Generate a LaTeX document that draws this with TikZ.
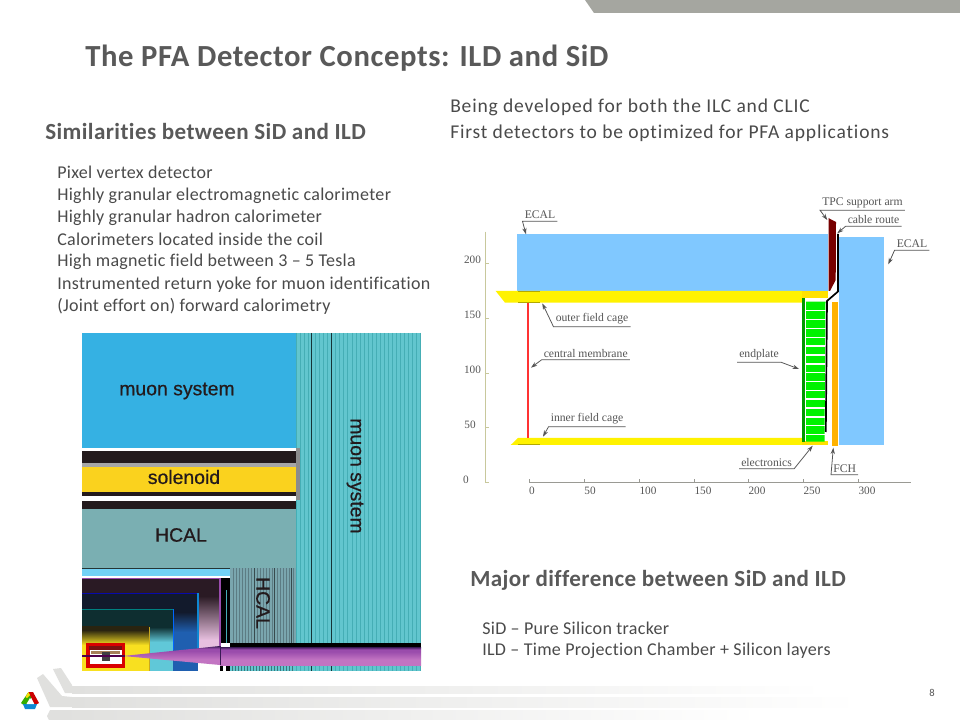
\documentclass[tikz,border=0pt]{standalone}
\usepackage{fontspec}
\setmainfont{Carlito}
\newfontfamily\titlef[LetterSpace=2.0,Ligatures=NoCommon]{Carlito}
\newfontfamily\headf[LetterSpace=1.8,Ligatures=NoCommon]{Carlito}
\newfontfamily\topf[LetterSpace=4.2,Ligatures=NoCommon]{Carlito}
\newfontfamily\bodyf[LetterSpace=1.7,Ligatures=NoCommon]{Carlito}
\newfontfamily\serifnum{Liberation Serif}
\newfontfamily\helv[FakeBold=0.6]{Liberation Sans}
\usetikzlibrary{arrows.meta}
\definecolor{titlegray}{HTML}{595959}
\definecolor{bodygray}{HTML}{4A4A4A}
\definecolor{axiskhaki}{HTML}{C8C89C}
\definecolor{axisgray}{HTML}{9A9A94}
\definecolor{labgray}{HTML}{555555}
\definecolor{ecalblue}{HTML}{80C8FF}
\definecolor{cageyellow}{HTML}{FFF200}
\definecolor{muonblue}{HTML}{35B1E3}
\definecolor{stripecyan}{HTML}{62C6CE}
\definecolor{stripedark}{HTML}{45AEB5}
\definecolor{hcalteal}{HTML}{7AAFB2}
\definecolor{hcalstripe}{HTML}{7AA6AE}
\definecolor{soleyellow}{HTML}{FAD21E}
\definecolor{nearblack}{HTML}{231A1C}
\definecolor{footgray}{HTML}{E0E0DE}
\definecolor{barcolor}{HTML}{A5A6A0}
\definecolor{conedark}{HTML}{3A1A55}
\definecolor{conemid}{HTML}{9A4CAC}
\definecolor{conelow}{HTML}{C274C2}
\definecolor{boxpink}{HTML}{E8C0E0}
\definecolor{boxblue}{HTML}{1F5FB0}
\definecolor{boxcyan}{HTML}{60C8D8}
\definecolor{darkteal}{HTML}{0E2E30}
\definecolor{darknavy}{HTML}{121A2C}
\definecolor{darkplum}{HTML}{2A1A24}
\definecolor{darkolive}{HTML}{2A2410}
\definecolor{boxyellow}{HTML}{F8E020}
\definecolor{oliveline}{HTML}{C8A820}
\pgfdeclareverticalshading{conesh}{100bp}{color(0bp)=(conelow); color(40bp)=(conelow); color(62bp)=(conemid); color(68bp)=(conemid); color(75bp)=(conedark); color(100bp)=(conedark)}
\tikzset{
  x=0.025cm,y=-0.025cm,
  titletext/.style={anchor=west,inner sep=0pt,text=titlegray,font=\titlef\fontsize{21.8}{24}\selectfont\bfseries},
  headtext/.style={anchor=west,inner sep=0pt,text=titlegray,font=\headf\fontsize{16.4}{18}\selectfont\bfseries},
  bodytext/.style={anchor=west,inner sep=0pt,text=bodygray,font=\bodyf\fontsize{12.8}{15}\selectfont},
  toptext/.style={anchor=west,inner sep=0pt,text=bodygray,font=\topf\fontsize{13.9}{16}\selectfont},
  imgtext/.style={inner sep=0pt,text=nearblack,font=\helv\fontsize{13.8}{16}\selectfont},
  ticklabel/.style={inner sep=0pt,text=labgray,font=\serifnum\fontsize{8}{9}\selectfont},
  calllabel/.style={anchor=base west,inner sep=1.4pt,text=labgray,font=\serifnum\fontsize{8.3}{9}\selectfont},
  leader/.style={draw=labgray,line width=0.55pt,-{Stealth[length=4.5pt,width=3pt,fill=black]}},
  rung/.style={fill=white,draw=none},
  stripe/.style={draw=stripedark,line width=0.3pt},
  stripeheavy/.style={draw=black!70!stripedark,line width=0.6pt},
}
\begin{document}
\begin{tikzpicture}
\useasboundingbox (0,0) rectangle (960,720);
\fill[white] (0,0) rectangle (960,720);

% top bar
\fill[barcolor] (585,0) -- (594,13) -- (960,13) -- (960,0) -- cycle;

% footer swoosh
\shade[left color=footgray,right color=white] (72,686) rectangle (825,693);
\shade[left color=footgray,right color=white] (72,697) rectangle (860,707);
\shade[left color=footgray,right color=white] (60,710) rectangle (760,720);
\fill[footgray] (53,669) -- (61,668) -- (72,685) -- (72,693) -- (65,693) -- cycle;
\fill[footgray] (37,678) -- (43,674) -- (62,696) -- (72,697) -- (72,707) -- (50,707) -- cycle;
\fill[footgray] (47,716) -- (50,710) -- (60,710) -- (60,720) -- (49,720) -- cycle;

% logo
\fill[green!60!black!80!yellow] (28.5,692) -- (32,697) -- (25,706) -- (21,703) -- cycle;
\fill[red!80!black] (28.5,692) -- (33,692) -- (39,703) -- (35,705) -- cycle;
\fill[cyan!70!blue] (23,704) -- (37,704) -- (35,709) -- (25,709) -- cycle;
\fill[white] (30,698) -- (34,704) -- (26.5,704) -- cycle;
\fill[yellow!80!orange] (28.5,692) -- (30,695) -- (27,698) -- (25.5,697) -- cycle;

\node[anchor=center,inner sep=0pt,text=labgray,font=\fontsize{7.5}{9}\selectfont] (pageno) at (932,693) {8};

% texts
\node[titletext] (title) at (85,58) {The PFA Detector Concepts: ILD and SiD};
\node[headtext] (simhead) at (45,131.5) {Similarities between SiD and ILD};
\node[toptext] (top1) at (450,107.5) {Being developed for both the ILC and CLIC};
\node[toptext] (top2) at (450,133.5) {First detectors to be optimized for PFA applications};
\node[bodytext] (b1) at (57,172.5) {Pixel vertex detector};
\node[bodytext] (b2) at (57,195.5) {Highly granular electromagnetic calorimeter};
\node[bodytext] (b3) at (57,217.5) {Highly granular hadron calorimeter};
\node[bodytext] (b4) at (57,239.5) {Calorimeters located inside the coil};
\node[bodytext] (b5) at (57,261.5) {High magnetic field between 3 – 5 Tesla};
\node[bodytext] (b6) at (57,284.5) {Instrumented return yoke for muon identification};
\node[bodytext] (b7) at (57,306.5) {(Joint effort on) forward calorimetry};
\node[headtext] (majhead) at (470,580.5) {Major difference between SiD and ILD};
\node[bodytext] (m1) at (482,628.5) {SiD – Pure Silicon tracker};
\node[bodytext] (m2) at (482,650.5) {ILD – Time Projection Chamber + Silicon layers};

% ---------- left image ----------
\fill[muonblue] (82,333) rectangle (296,448);
\fill[stripecyan] (296,333) rectangle (421,671);
\foreach \sx in {300,304,308,315,319,323,327,335,339,343,347,352,356,360,364,368,372,376,380,384,388,392,396,400,404,408,412,416}
  \draw[stripe] (\sx,333) -- (\sx,671);
\draw[stripeheavy] (311,333) -- (311,671);
\draw[stripeheavy] (331,333) -- (331,671);
\draw[stripe,line width=0.5pt] (296,333) -- (296,671);
\draw[stripe,line width=0.8pt] (420.5,333) -- (420.5,671);

\fill[white] (82,448) rectangle (296,451);
\fill[nearblack] (82,451) rectangle (296,463);
\fill[black!35] (82,463) rectangle (296,467);
\fill[soleyellow] (82,467) rectangle (296,492);
\fill[nearblack] (82,492) rectangle (296,496);
\fill[white] (82,496) rectangle (296,501);
\fill[nearblack] (82,501) rectangle (296,509);
\fill[black!45] (296,448) rectangle (299.5,500);
\fill[hcalteal] (82,509) rectangle (296,568);
\draw[black!70!hcalteal,line width=0.5pt] (82,568) -- (296,568);

\fill[cyan!55!white] (82,568.5) rectangle (230,576);
\fill[hcalstripe] (230,568) rectangle (296,643);
\foreach \sx in {233,236,239,242,245,248,251,257,260,263,266,269,272,277,280,283,286,289,293}
  \draw[black!25!hcalstripe,line width=0.3pt] (\sx,568) -- (\sx,643);
\draw[black!55!hcalstripe,line width=0.6pt] (254,568) -- (254,643);
\draw[black!55!hcalstripe,line width=0.6pt] (274,568) -- (274,643);
\draw[black!55!hcalstripe,line width=0.6pt] (291,568) -- (291,643);

\fill[white] (82,576) rectangle (230,578);
\fill[black] (220,578) rectangle (230,643);
\draw[stripedark,line width=0.4pt] (226.5,590) -- (226.5,643);

% nested gradient boxes
\fill[darkplum] (82,578) rectangle (220,596);
\shade[top color=darkplum,bottom color=boxpink] (198,596) rectangle (220,640);
\fill[boxpink] (198,640) rectangle (220,652);
\fill[white] (198,652) rectangle (220,671);
\draw[conemid,line width=0.9pt] (82,578.5) -- (220,578.5) -- (220,650);

\fill[darknavy] (82,593) rectangle (198,612);
\shade[top color=darknavy,bottom color=boxblue] (173,612) rectangle (198,632);
\fill[boxblue] (173,632) rectangle (198,671);
\draw[blue!60!darknavy,line width=0.5pt] (82,593) -- (198,593);
\draw[cyan!70!blue,line width=0.8pt] (198,593) -- (198,650);

\fill[darkteal] (82,609) rectangle (173,627);
\shade[top color=darkteal,bottom color=boxcyan] (149,627) rectangle (173,642);
\fill[boxcyan] (149,642) rectangle (173,671);
\draw[teal,line width=0.7pt] (82,609) -- (173,609);
\draw[blue!60!cyan,line width=0.7pt] (173,609) -- (173,650);

\fill[darkolive] (82,626) rectangle (149,630);
\shade[top color=darkolive,bottom color=boxyellow] (82,630) rectangle (149,645);
\fill[boxyellow] (82,645) rectangle (149,671);
\draw[oliveline,line width=0.5pt] (149,627) -- (149,671);

% beam pipe and cone
\fill[black] (230,643) rectangle (421,647);
\fill[black] (220,664) rectangle (223,671);
\fill[black] (226,664) rectangle (230,671);
\fill[stripecyan] (230,664) rectangle (296,671);
\foreach \sx in {232,235,238,241,244,247,250,253,256,259,262,265,268,271,274,277,280,283,286,289,292}
  \draw[black!40!stripecyan,line width=0.3pt] (\sx,664) -- (\sx,671);
\shade[shading=conesh] (220,647) rectangle (421,665);
\shade[shading=conesh] (123,656) -- (220,646) -- (220,665) -- cycle;
\draw[conedark,line width=0.4pt] (220,646) -- (220,665);

% red inner box
\fill[red!85!black] (86,643) rectangle (125,668);
\fill[nearblack!60!red] (89,646) rectangle (122,650);
\fill[white] (90,650) rectangle (122,664);
\fill[brown!60!gray] (91,651) rectangle (120,654);
\fill[black!75] (102,652) rectangle (110,661);
\fill[violet!60!black] (82,654.5) rectangle (125,656.5);

\node[imgtext] (imuon) at (177,391) {muon system};
\node[imgtext] (isole) at (184,477) {solenoid};
\node[imgtext] (ihcal) at (181,535) {HCAL};
\node[imgtext,rotate=-90] (imuonv) at (355,476) {muon system};
\node[imgtext,rotate=-90] (ihcalv) at (263,603) {HCAL};

% ---------- right diagram ----------
\fill[ecalblue] (517,234.5) rectangle (828,291);
\fill[ecalblue] (839,236.7) rectangle (884,445);
\fill[cageyellow] (495.7,291) -- (802,291) -- (802,302.7) -- (505,302.7) -- cycle;
\fill[cageyellow!85!orange] (802,291) rectangle (828,297.7);
\fill[cageyellow] (518,438) -- (802,438) -- (802,445) -- (510.7,445) -- cycle;
\fill[cageyellow!85!orange] (802,441.5) rectangle (828,445);
\draw[black!30!cageyellow,line width=0.5pt] (518,291.3) -- (540,291.3);
\draw[black!30!cageyellow,line width=0.5pt] (518,302.5) -- (540,302.5);
\draw[black!30!cageyellow,line width=0.5pt] (518,444.8) -- (540,444.8);
\draw[red!80!white,line width=1.2pt] (528.3,303) -- (528.3,438);

% endplate
\fill[green!60!black] (802,297.7) rectangle (805,441.7);
\fill[green!95!black] (806,301.7) -- (825.5,301.7) -- (824.5,441.7) -- (806,441.7) -- cycle;
\foreach \ry in {310,319,328,337,345.5,354.5,363.5,372,381,390,398.5,407.5,416.5,425,434}
  \fill[rung] (806,\ry) rectangle (825.5,\ry+1.2);

% support arm and cable
\fill[black!45!red!85!black] (828.5,218) -- (831,219.5) -- (836,222) -- (835.7,280) -- (830,291) -- (828.5,291) -- cycle;
\draw[black,line width=1.2pt] (838,234) -- (838,291.5) -- (827,301) -- (825.8,432);

% FCH
\fill[orange!60!yellow] (831.7,302.3) rectangle (837.7,445.7);

% axes
\draw[axiskhaki,line width=0.8pt] (485.7,231.7) -- (485.7,482.7);
\foreach \ty in {263.3,318.3,373.3,427.7,482.7}
  \draw[axiskhaki,line width=0.6pt] (485.7,\ty) -- (489,\ty);
\node[ticklabel] (y200) at (472.5,260) {200};
\node[ticklabel] (y150) at (472.5,315) {150};
\node[ticklabel] (y100) at (472.5,370) {100};
\node[ticklabel] (y50) at (470,425) {50};
\node[ticklabel] (y0) at (466,480) {0};
\draw[axisgray,line width=0.6pt] (529,482.7) -- (911,482.7);
\foreach \tx in {529,584,639,694,748,803,858}
  \draw[axisgray,line width=0.5pt] (\tx,482.7) -- (\tx,479);
\node[ticklabel] (x0) at (532,490.5) {0};
\node[ticklabel] (x50) at (590,490.5) {50};
\node[ticklabel] (x100) at (648,490.5) {100};
\node[ticklabel] (x150) at (703,490.5) {150};
\node[ticklabel] (x200) at (757,490.5) {200};
\node[ticklabel] (x250) at (812,490.5) {250};
\node[ticklabel] (x300) at (867,490.5) {300};

% callouts
\node[calllabel] (ecala) at (522.5,219) {ECAL};
\coordinate (ecalat) at (526,234.3);
\draw[leader] (ecala.south east) -- (ecala.south west) -- (ecalat);

\node[calllabel] (ofc) at (553.5,322) {outer field cage};
\coordinate (ofct) at (542.3,303.3);
\draw[leader] (ofc.south east) -- (ofc.south west) -- (ofct);

\node[calllabel] (cm) at (541.5,357.5) {central membrane};
\coordinate (cmt) at (531,367.7);
\draw[leader] (cm.south east) -- (cm.south west) -- (cmt);

\node[calllabel] (ifc) at (548.5,422) {inner field cage};
\coordinate (ifct) at (543,436.7);
\draw[leader] (ifc.south east) -- (ifc.south west) -- (ifct);

\node[calllabel] (tpc) at (820,205.5) {TPC\ support arm};
\coordinate (tpct) at (827.3,220);
\draw[leader] (tpc.south east) -- (tpc.south west) -- (tpct);

\node[calllabel] (cable) at (845.5,224) {cable route};
\coordinate (cablet) at (837.3,233.3);
\draw[leader] (cable.south east) -- (cable.south west) -- (cablet);

\node[calllabel] (ecalb) at (894.5,248) {ECAL};
\coordinate (ecalbt) at (888.3,264.3);
\draw[leader] (ecalb.south east) -- (ecalb.south west) -- (ecalbt);

\node[calllabel] (endp) at (737,357.5) {endplate};
\coordinate (endpt) at (799,369);
\draw[leader] (endp.south west) -- (endp.south east) -- (endpt);

\node[calllabel] (elec) at (739,466.5) {electronics};
\coordinate (elect) at (812.7,445.7);
\draw[leader] (elec.south west) -- (elec.south east) -- (elect);

\node[calllabel] (fch) at (831,472.5) {FCH};
\coordinate (fcht) at (833.3,447.7);
\draw[leader] (fch.south east) -- (fch.south west) -- (fcht);
\end{tikzpicture}
\end{document}
